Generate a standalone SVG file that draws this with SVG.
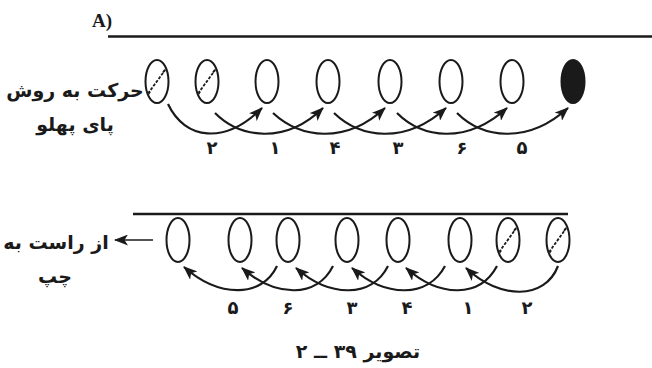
<svg xmlns="http://www.w3.org/2000/svg" xmlns:xlink="http://www.w3.org/1999/xlink" width="652" height="368" viewBox="0 0 652 368">
<style>
.ell{fill:#fff;stroke:#1a1a1a;stroke-width:2}
.fill{fill:#1a1a1a;stroke:#1a1a1a;stroke-width:2}
.arc{fill:none;stroke:#1a1a1a;stroke-width:2.2}
.rule{stroke:#1a1a1a;stroke-width:2.5}
.h{stroke:#1a1a1a;stroke-width:1.8;stroke-dasharray:3 1.5}
.fa{font-family:"DejaVu Sans",sans-serif;font-weight:bold;fill:#1a1a1a}
.lbl{font-size:18px;text-anchor:middle}
.big{font-size:19px;text-anchor:middle}
</style>
<defs>
<marker id="ah" viewBox="0 0 14 11" refX="13" refY="5.5" markerWidth="14" markerHeight="11" markerUnits="userSpaceOnUse" orient="auto">
<path d="M0,0 L14,5.5 L0,11 L3.5,5.5 z" fill="#1a1a1a"/>
</marker>
<clipPath id="ce"><ellipse cx="0" cy="0" rx="10.5" ry="20.5"/></clipPath>
<g id="hatch">
<ellipse class="ell" cx="0" cy="0" rx="11.5" ry="21.5"/>
<g clip-path="url(#ce)">
<line class="h" x1="-9" y1="12" x2="10" y2="-14"/>
<line class="h" x1="-14" y1="20" x2="-6" y2="9"/>
<line class="h" x1="6" y1="-9" x2="14" y2="-20"/>
</g>
</g>
</defs>
<rect width="652" height="368" fill="#fff"/>

<text x="92" y="27" style="font-family:'Liberation Serif',serif;font-weight:bold;font-size:19px;fill:#1a1a1a">A)</text>
<line class="rule" x1="108" y1="36.5" x2="652" y2="36.5"/>
<line class="rule" x1="133" y1="214" x2="568" y2="214"/>

<g id="top-nodes">
<g id="t1"><use xlink:href="#hatch" transform="translate(157,81.5)"/></g>
<g id="t2"><use xlink:href="#hatch" transform="translate(207,81.5)"/></g>
<g id="t3"><ellipse class="ell" cx="267" cy="81.5" rx="11.5" ry="21.5"/></g>
<g id="t4"><ellipse class="ell" cx="328" cy="81.5" rx="11.5" ry="21.5"/></g>
<g id="t5"><ellipse class="ell" cx="390" cy="81.5" rx="11.5" ry="21.5"/></g>
<g id="t6"><ellipse class="ell" cx="451" cy="81.5" rx="11.5" ry="21.5"/></g>
<g id="t7"><ellipse class="ell" cx="512" cy="81.5" rx="11.5" ry="21.5"/></g>
<g id="t8"><ellipse class="fill" cx="573" cy="81.5" rx="11.5" ry="21.5"/></g>
</g>

<g id="bottom-nodes">
<g id="b1"><ellipse class="ell" cx="178" cy="240" rx="11.5" ry="22"/></g>
<g id="b2"><ellipse class="ell" cx="240" cy="240" rx="11.5" ry="22"/></g>
<g id="b3"><ellipse class="ell" cx="288" cy="240" rx="11.5" ry="22"/></g>
<g id="b4"><ellipse class="ell" cx="347" cy="240" rx="11.5" ry="22"/></g>
<g id="b5"><ellipse class="ell" cx="398" cy="240" rx="11.5" ry="22"/></g>
<g id="b6"><ellipse class="ell" cx="460" cy="240" rx="11.5" ry="22"/></g>
<g id="b7"><use xlink:href="#hatch" transform="translate(508,240) scale(1,1.02)"/></g>
<g id="b8"><use xlink:href="#hatch" transform="translate(558,240) scale(1,1.02)"/></g>
</g>

<g id="connectors">
<path class="arc" marker-end="url(#ah)" d="M168,104 C185,140 225,145 262,108"/>
<path class="arc" marker-end="url(#ah)" d="M215,113 C240,138 285,145 323,108"/>
<path class="arc" marker-end="url(#ah)" d="M273,113 C300,138 345,145 385,108"/>
<path class="arc" marker-end="url(#ah)" d="M334,113 C360,138 405,145 446,108"/>
<path class="arc" marker-end="url(#ah)" d="M397,113 C422,138 466,145 507,108"/>
<path class="arc" marker-end="url(#ah)" d="M457,113 C482,138 527,145 568,108"/>

<path class="arc" marker-end="url(#ah)" d="M558,266 C545,300 500,300 466,268"/>
<path class="arc" marker-end="url(#ah)" d="M497,266 C480,298 440,298 406,268"/>
<path class="arc" marker-end="url(#ah)" d="M445,266 C428,298 386,298 352,268"/>
<path class="arc" marker-end="url(#ah)" d="M388,266 C372,298 330,298 296,268"/>
<path class="arc" marker-end="url(#ah)" d="M333,266 C317,298 276,298 242,268"/>
<path class="arc" marker-end="url(#ah)" d="M277,266 C262,298 219,298 184,267"/>

<line class="arc" x1="153" y1="240" x2="115" y2="240" marker-end="url(#ah)" style="stroke-width:1.6"/>
</g>

<g id="labels" class="fa">
<text class="lbl" x="212" y="154">۲</text>
<text class="lbl" x="275" y="154">۱</text>
<text class="lbl" x="335" y="154">۴</text>
<text class="lbl" x="398" y="154">۳</text>
<text class="lbl" x="462" y="154">۶</text>
<text class="lbl" x="522" y="154">۵</text>

<text class="lbl" x="527" y="314">۲</text>
<text class="lbl" x="468" y="314">۱</text>
<text class="lbl" x="407" y="314">۴</text>
<text class="lbl" x="352" y="314">۳</text>
<text class="lbl" x="288" y="314">۶</text>
<text class="lbl" x="233" y="314">۵</text>

<text class="big" x="75" y="97" direction="rtl">حرکت به روش</text>
<text class="big" x="75" y="131" direction="rtl">پای پهلو</text>
<text class="big" x="56" y="249" direction="rtl">از راست به</text>
<text class="big" x="55" y="283" direction="rtl">چپ</text>
<text class="big" x="358" y="358" direction="rtl">تصویر ۳۹ ــ ۲</text>
</g>
</svg>
